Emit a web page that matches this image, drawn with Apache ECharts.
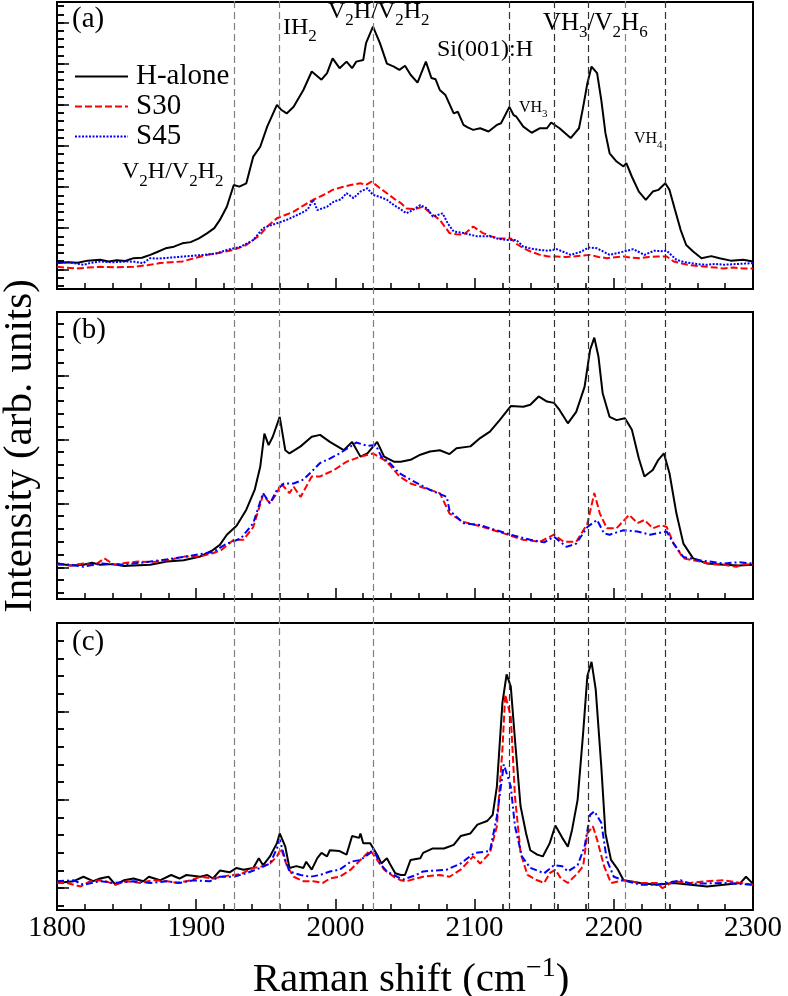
<!DOCTYPE html>
<html><head><meta charset="utf-8">
<script src="https://cdn.jsdelivr.net/npm/echarts@6/dist/echarts.min.js"></script>
<style>html,body{margin:0;padding:0;background:#fff}#c{width:788px;height:996px}</style>
</head><body><div id="c"></div>
<script>
// ---------------- data (Raman shift, intensity in arb. units) ----------------
const seriesNames = ['H-alone', 'S30', 'S45'];
const xTickLabels = [1800, 1900, 2000, 2100, 2200, 2300];
const refLines = [1927, 1960, 2027, 2125, 2157, 2182, 2208, 2237];
const refLineDark = [false, false, false, true, true, true, false, true];

const aH = [[1800,0.15],[1808,0.17],[1815,0.16],[1822,0.21],[1831,0.23],[1837,0.19],[1843,0.22],[1849,0.20],[1855,0.27],[1861,0.28],[1867,0.35],[1872,0.42],[1878,0.51],[1884,0.55],[1890,0.63],[1896,0.66],[1902,0.75],[1908,0.88],[1913,1.0],[1917,1.20],[1922,1.52],[1927,2.05],[1931,2.01],[1936,2.09],[1941,2.74],[1946,2.98],[1951,3.47],[1958,4.00],[1961,3.88],[1965,3.79],[1970,3.95],[1977,4.36],[1983,4.81],[1990,4.61],[1994,4.77],[1998,5.13],[2003,4.89],[2008,5.05],[2012,4.89],[2015,5.05],[2020,5.09],[2022,5.50],[2027,5.90],[2032,5.50],[2037,5.00],[2042,4.93],[2046,4.85],[2050,4.95],[2054,4.73],[2059,4.54],[2065,5.05],[2069,4.65],[2072,4.62],[2075,4.36],[2079,4.24],[2085,3.79],[2088,3.83],[2092,3.51],[2095,3.45],[2099,3.39],[2104,3.43],[2110,3.35],[2116,3.51],[2119,3.55],[2125,3.95],[2128,3.75],[2130,3.71],[2135,3.47],[2141,3.32],[2147,3.43],[2152,3.43],[2155,3.57],[2161,3.43],[2169,3.19],[2175,3.43],[2178,3.95],[2181,4.52],[2184,4.93],[2188,4.77],[2191,4.12],[2194,3.31],[2197,2.82],[2202,2.62],[2207,2.50],[2209,2.58],[2213,2.25],[2218,1.89],[2223,1.69],[2228,1.89],[2232,1.93],[2237,2.09],[2240,1.93],[2244,1.44],[2248,0.96],[2252,0.59],[2257,0.43],[2263,0.27],[2270,0.32],[2276,0.27],[2284,0.21],[2293,0.23],[2300,0.19]];
const aS30 = [[1800,0.06],[1807,0.04],[1814,0.02],[1822,0.04],[1831,0.06],[1843,0.05],[1855,0.06],[1865,0.10],[1874,0.15],[1882,0.17],[1890,0.19],[1899,0.27],[1908,0.35],[1918,0.41],[1927,0.47],[1936,0.59],[1946,0.84],[1951,1.04],[1958,1.24],[1964,1.32],[1970,1.40],[1977,1.55],[1984,1.69],[1991,1.80],[1998,1.93],[2005,2.00],[2011,2.05],[2018,2.09],[2022,2.05],[2026,2.13],[2031,2.00],[2037,1.85],[2042,1.72],[2047,1.61],[2051,1.48],[2057,1.46],[2063,1.52],[2069,1.35],[2075,1.20],[2082,0.88],[2087,0.85],[2092,0.84],[2099,1.04],[2106,0.88],[2112,0.80],[2118,0.75],[2126,0.75],[2130,0.62],[2135,0.51],[2141,0.42],[2147,0.35],[2153,0.31],[2159,0.31],[2165,0.30],[2171,0.31],[2177,0.33],[2183,0.35],[2189,0.30],[2195,0.27],[2201,0.29],[2207,0.31],[2213,0.28],[2219,0.27],[2225,0.30],[2231,0.31],[2238,0.31],[2243,0.19],[2249,0.14],[2255,0.10],[2261,0.08],[2267,0.06],[2273,0.04],[2279,0.02],[2286,0.04],[2293,0.02],[2300,0.02]];
const aS45 = [[1800,0.15],[1808,0.17],[1819,0.11],[1825,0.16],[1831,0.19],[1840,0.17],[1850,0.19],[1856,0.18],[1862,0.15],[1867,0.27],[1873,0.26],[1880,0.28],[1891,0.31],[1898,0.33],[1906,0.35],[1915,0.39],[1922,0.47],[1932,0.55],[1941,0.71],[1948,1.00],[1952,1.05],[1958,1.12],[1965,1.20],[1970,1.28],[1975,1.36],[1980,1.45],[1984,1.69],[1987,1.44],[1994,1.52],[1999,1.65],[2004,1.70],[2008,1.85],[2013,1.73],[2018,1.89],[2023,1.97],[2027,1.81],[2032,1.76],[2037,1.69],[2042,1.56],[2046,1.48],[2051,1.36],[2056,1.45],[2061,1.56],[2066,1.48],[2070,1.28],[2077,1.36],[2081,1.10],[2085,0.92],[2092,0.88],[2097,0.84],[2102,0.80],[2111,0.80],[2117,0.74],[2123,0.71],[2130,0.71],[2135,0.55],[2141,0.50],[2147,0.47],[2153,0.45],[2159,0.49],[2164,0.42],[2169,0.35],[2176,0.42],[2182,0.53],[2188,0.51],[2193,0.42],[2197,0.35],[2202,0.39],[2207,0.43],[2214,0.49],[2218,0.42],[2222,0.35],[2229,0.45],[2234,0.44],[2238,0.45],[2245,0.23],[2250,0.18],[2255,0.15],[2261,0.12],[2267,0.11],[2273,0.13],[2279,0.11],[2290,0.13],[2300,0.15]];

const bH = [[1800,0.06],[1810,0.03],[1819,0.04],[1825,0.07],[1831,0.04],[1840,0.05],[1848,0.02],[1855,0.03],[1867,0.04],[1879,0.09],[1891,0.11],[1903,0.17],[1912,0.27],[1917,0.35],[1922,0.51],[1929,0.65],[1936,0.90],[1942,1.21],[1946,1.57],[1949,2.09],[1952,1.91],[1955,2.04],[1960,2.35],[1964,1.83],[1967,1.78],[1975,1.89],[1983,2.04],[1989,2.07],[1996,1.96],[2006,1.83],[2012,1.96],[2018,1.73],[2023,1.78],[2030,1.96],[2035,1.73],[2042,1.65],[2047,1.65],[2054,1.68],[2061,1.76],[2068,1.81],[2075,1.83],[2082,1.77],[2087,1.86],[2097,1.89],[2104,2.02],[2111,2.12],[2118,2.30],[2126,2.52],[2135,2.51],[2140,2.54],[2146,2.67],[2152,2.59],[2157,2.57],[2161,2.46],[2167,2.25],[2173,2.43],[2179,2.82],[2183,3.40],[2186,3.59],[2189,3.29],[2192,2.72],[2197,2.35],[2202,2.30],[2208,2.33],[2213,2.15],[2218,1.70],[2222,1.42],[2228,1.52],[2232,1.68],[2236,1.78],[2240,1.47],[2245,0.84],[2250,0.37],[2257,0.14],[2267,0.06],[2279,0.04],[2290,0.03],[2300,0.04]];
const bS30 = [[1800,0.04],[1810,0.03],[1819,0.06],[1827,0.03],[1834,0.14],[1841,0.04],[1850,0.07],[1858,0.09],[1868,0.08],[1879,0.11],[1892,0.17],[1903,0.17],[1912,0.22],[1918,0.27],[1927,0.43],[1934,0.43],[1941,0.63],[1948,1.13],[1953,1.00],[1958,1.16],[1961,1.31],[1967,1.16],[1970,1.26],[1975,1.10],[1983,1.42],[1989,1.42],[1999,1.52],[2008,1.65],[2018,1.73],[2027,1.78],[2035,1.68],[2039,1.60],[2046,1.42],[2054,1.31],[2061,1.26],[2068,1.21],[2075,1.16],[2082,0.84],[2092,0.71],[2106,0.63],[2121,0.53],[2135,0.43],[2147,0.40],[2157,0.51],[2164,0.40],[2173,0.40],[2181,0.68],[2186,1.16],[2190,0.84],[2195,0.61],[2202,0.61],[2211,0.82],[2217,0.69],[2222,0.74],[2228,0.61],[2234,0.66],[2238,0.63],[2243,0.37],[2250,0.14],[2262,0.09],[2270,0.05],[2279,0.04],[2288,0.01],[2294,0.05],[2300,0.04]];
const bS45 = [[1800,0.06],[1810,0.04],[1819,0.01],[1831,0.06],[1848,0.04],[1867,0.09],[1881,0.13],[1896,0.18],[1912,0.24],[1922,0.37],[1932,0.45],[1941,0.69],[1948,1.16],[1953,1.00],[1958,1.21],[1963,1.31],[1970,1.31],[1977,1.37],[1984,1.52],[1989,1.63],[1996,1.70],[2003,1.78],[2011,1.89],[2015,1.95],[2023,1.90],[2029,1.91],[2033,1.73],[2039,1.63],[2046,1.47],[2054,1.37],[2061,1.29],[2068,1.21],[2080,1.10],[2082,0.89],[2092,0.69],[2104,0.66],[2111,0.61],[2126,0.51],[2140,0.43],[2150,0.39],[2157,0.48],[2166,0.32],[2173,0.37],[2181,0.63],[2188,0.74],[2193,0.53],[2197,0.51],[2207,0.58],[2217,0.56],[2226,0.51],[2231,0.53],[2238,0.56],[2243,0.37],[2250,0.16],[2262,0.11],[2279,0.06],[2290,0.08],[2300,0.06]];

const cH = [[1800,0.06],[1812,0.08],[1819,0.13],[1826,0.08],[1831,0.11],[1837,0.13],[1842,0.04],[1848,0.09],[1855,0.11],[1862,0.08],[1866,0.13],[1874,0.09],[1882,0.15],[1888,0.11],[1893,0.15],[1903,0.13],[1908,0.15],[1912,0.11],[1917,0.20],[1924,0.18],[1929,0.23],[1934,0.21],[1941,0.23],[1945,0.34],[1948,0.26],[1953,0.36],[1958,0.51],[1960,0.62],[1964,0.47],[1967,0.23],[1972,0.25],[1977,0.23],[1979,0.30],[1983,0.21],[1987,0.34],[1990,0.40],[1994,0.36],[1996,0.43],[2003,0.42],[2008,0.38],[2012,0.59],[2017,0.57],[2018,0.62],[2020,0.51],[2025,0.51],[2030,0.38],[2033,0.28],[2037,0.34],[2039,0.28],[2043,0.17],[2047,0.15],[2050,0.15],[2054,0.32],[2061,0.34],[2063,0.40],[2070,0.45],[2078,0.45],[2085,0.49],[2090,0.59],[2097,0.62],[2102,0.72],[2109,0.76],[2113,0.83],[2116,1.15],[2120,2.10],[2123,2.42],[2126,2.28],[2129,1.68],[2133,0.93],[2137,0.62],[2140,0.43],[2145,0.38],[2149,0.36],[2154,0.51],[2158,0.71],[2163,0.57],[2167,0.47],[2170,0.66],[2174,1.00],[2178,1.76],[2181,2.40],[2184,2.56],[2187,2.25],[2191,1.38],[2194,0.62],[2198,0.32],[2203,0.21],[2207,0.09],[2219,0.06],[2231,0.04],[2243,0.06],[2255,0.04],[2267,0.02],[2279,0.04],[2291,0.06],[2295,0.13],[2300,0.05]];
const cS30 = [[1800,0.06],[1807,0.06],[1817,0.02],[1824,0.08],[1833,0.09],[1842,0.04],[1850,0.08],[1860,0.06],[1869,0.09],[1879,0.08],[1886,0.06],[1896,0.09],[1903,0.13],[1912,0.11],[1922,0.14],[1932,0.16],[1941,0.23],[1948,0.25],[1953,0.28],[1958,0.36],[1961,0.45],[1965,0.26],[1970,0.13],[1977,0.08],[1984,0.08],[1991,0.06],[1996,0.11],[2003,0.13],[2011,0.21],[2018,0.32],[2025,0.43],[2030,0.32],[2035,0.21],[2042,0.13],[2047,0.09],[2051,0.08],[2063,0.13],[2075,0.15],[2082,0.13],[2090,0.21],[2099,0.36],[2104,0.28],[2111,0.40],[2116,0.70],[2120,1.57],[2122,2.19],[2126,1.94],[2129,1.04],[2133,0.40],[2138,0.15],[2145,0.09],[2150,0.06],[2154,0.17],[2158,0.21],[2162,0.11],[2167,0.06],[2174,0.17],[2178,0.25],[2181,0.62],[2185,0.70],[2188,0.55],[2193,0.25],[2198,0.06],[2207,0.09],[2219,0.06],[2231,0.06],[2235,0.00],[2243,0.08],[2255,0.06],[2267,0.08],[2279,0.09],[2291,0.06],[2300,0.04]];
const cS45 = [[1800,0.08],[1812,0.09],[1819,0.04],[1831,0.08],[1841,0.06],[1855,0.08],[1867,0.06],[1879,0.08],[1888,0.06],[1898,0.09],[1910,0.08],[1917,0.13],[1927,0.13],[1936,0.17],[1946,0.23],[1953,0.28],[1958,0.45],[1960,0.55],[1964,0.32],[1967,0.19],[1975,0.15],[1982,0.13],[1989,0.15],[1996,0.19],[2003,0.21],[2011,0.30],[2018,0.32],[2025,0.40],[2027,0.45],[2032,0.28],[2037,0.19],[2047,0.11],[2049,0.10],[2058,0.15],[2063,0.19],[2080,0.21],[2090,0.28],[2100,0.40],[2111,0.42],[2116,0.81],[2121,1.40],[2126,1.15],[2129,0.70],[2134,0.36],[2140,0.23],[2150,0.17],[2157,0.26],[2163,0.25],[2167,0.19],[2174,0.26],[2179,0.47],[2183,0.83],[2186,0.87],[2191,0.74],[2195,0.32],[2200,0.13],[2207,0.09],[2219,0.04],[2231,0.04],[2248,0.09],[2255,0.05],[2279,0.06],[2300,0.04]];

// y tick positions (no labels shown)
const yMajorA = [0, 1, 2, 3, 4, 5, 6];
const yMinorA = [-0.4, -0.2, 0.2, 0.4, 0.6, 0.8, 1.2, 1.4, 1.6, 1.8, 2.2, 2.4, 2.6, 2.8, 3.2, 3.4, 3.6, 3.8, 4.2, 4.4, 4.6, 4.8, 5.2, 5.4, 5.6, 5.8, 6.2, 6.4];
const yMajorB = [0, 1, 2, 3];
const yMinorB = [-0.4, -0.2, 0.2, 0.4, 0.6, 0.8, 1.2, 1.4, 1.6, 1.8, 2.2, 2.4, 2.6, 2.8, 3.2, 3.4, 3.6, 3.8];
const yMajorC = [0, 1, 2];
const yMinorC = [-0.2, 0.2, 0.4, 0.6, 0.8, 1.2, 1.4, 1.6, 1.8, 2.2, 2.4, 2.6, 2.8];

// ---------------- layout / styling ----------------
const FONT = '"Liberation Serif","Times New Roman",serif';
const panels = [
  { top: 2, min: -0.48, max: 6.50, majors: yMajorA, minors: yMinorA, data: [aH, aS30, aS45], blue: [2, 1.5] },
  { top: 312, min: -0.495, max: 3.99, majors: yMajorB, minors: yMinorB, data: [bH, bS30, bS45], blue: [7, 3, 2, 3] },
  { top: 623, min: -0.246, max: 3.0, majors: yMajorC, minors: yMinorC, data: [cH, cS30, cS45], blue: [7, 3, 2, 3] }
];
const L = 57, W = 696, H = 287;
const X0 = xTickLabels[0], X1 = xTickLabels[xTickLabels.length - 1];
const majorLenData = 12 / W * (X1 - X0);   // tick lengths expressed along the x scale
const minorLenData = 7 / W * (X1 - X0);

const grid = [], xAxis = [], yAxis = [], series = [];
panels.forEach((p, i) => {
  grid.push({ left: L, top: p.top, width: W, height: H, show: true, borderColor: '#000', borderWidth: 2, backgroundColor: 'rgba(0,0,0,0)', containLabel: false, outerBoundsMode: 'none' });
  xAxis.push({
    type: 'value', gridIndex: i, min: X0, max: X1, interval: 100,
    axisLine: { show: true, onZero: false, lineStyle: { color: '#000', width: 2 } },
    axisTick: { show: true, inside: true, length: 11, lineStyle: { color: '#000', width: 1.5 } },
    minorTick: { show: true, splitNumber: 5, length: 6, lineStyle: { color: '#000', width: 1.5 } },
    splitLine: { show: false }, minorSplitLine: { show: false },
    axisLabel: { show: i === 2, fontFamily: FONT, fontSize: 29, color: '#000', margin: 4, showMinLabel: true, showMaxLabel: true, formatter: v => String(v) }
  });
  const allTicks = p.majors.concat(p.minors).sort((a, b) => a - b);
  yAxis.push({
    type: 'value', gridIndex: i, min: p.min, max: p.max, position: 'left',
    axisLine: { show: true, onZero: false, lineStyle: { color: '#000', width: 2 } },
    axisTick: { show: true, inside: true, length: 7, lineStyle: { color: '#000', width: 1.5 }, customValues: allTicks },
    axisLabel: { show: false, customValues: allTicks },
    splitLine: { show: false }
  });
  const styles = [
    { color: '#000000', width: 2, type: 'solid' },
    { color: '#ff0000', width: 2, type: [7, 3] },
    { color: '#0000ff', width: 2, type: p.blue }
  ];
  p.data.forEach((d, k) => {
    const s = {
      type: 'line', name: seriesNames[k], data: d, xAxisIndex: i, yAxisIndex: i,
      symbol: 'none', showSymbol: false, color: styles[k].color,
      lineStyle: styles[k], itemStyle: { color: styles[k].color }, z: 3, animation: false
    };
    if (k === 0) {
      // inward y ticks (major and minor) on the left frame, placed through the panel's scales
      s.markLine = {
        silent: true, symbol: ['none', 'none'], label: { show: false }, animation: false,
        lineStyle: { color: '#000', width: 1.5, type: 'solid', opacity: 1 },
        emphasis: { disabled: true },
        data: p.majors.map(m => [{ coord: [X0, m] }, { coord: [X0 + majorLenData, m] }])
          .concat(p.minors.map(m => [{ coord: [X0, m] }, { coord: [X0 + minorLenData, m] }]))
      };
    }
    series.push(s);
  });
});
// overlay grid (index 3) for the reference lines through all panels
grid.push({ left: L, top: 0, width: W, height: 910, show: false, containLabel: false, outerBoundsMode: 'none' });
xAxis.push({ type: 'value', gridIndex: 3, min: X0, max: X1, show: false });
yAxis.push({ type: 'value', gridIndex: 3, min: 0, max: 1, show: false });
series.push({
  type: 'line', name: 'ref', data: [], xAxisIndex: 3, yAxisIndex: 3, z: 1, animation: false,
  markLine: {
    silent: true, symbol: ['none', 'none'], label: { show: false }, animation: false,
    data: refLines.map((x, i) => ({ xAxis: x, lineStyle: { color: refLineDark[i] ? '#333333' : '#808080', type: [7, 4], width: 1.2 } }))
  }
});

// rich text with subscripts: "_d" = subscript character d
function richLabel(spec, fs, sfs) {
  let text = '', run = '';
  for (let i = 0; i < spec.length; i++) {
    if (spec[i] === '_') {
      if (run) { text += '{m|' + run + '}'; run = ''; }
      text += '{s|' + spec[i + 1] + '}'; i++;
    } else run += spec[i];
  }
  if (run) text += '{m|' + run + '}';
  const sl = fs / 2 + 0.3375 * fs + 1 + sfs / 2;
  return {
    text,
    rich: {
      m: { fontFamily: FONT, fontSize: fs, lineHeight: fs, verticalAlign: 'top', fill: '#000' },
      s: { fontFamily: FONT, fontSize: sfs, lineHeight: sl, verticalAlign: 'bottom', fill: '#000' }
    }
  };
}
function ann(spec, x, capCenter, fs, sfs) {
  const r = richLabel(spec, fs, sfs);
  return {
    type: 'text', x: x, y: capCenter - fs / 2, z: 10,
    style: { text: r.text, rich: r.rich, fontFamily: FONT, fontSize: fs, fill: '#000', align: 'left', verticalAlign: 'top', textAlign: 'left', textVerticalAlign: 'top' }
  };
}
function plain(txt, x, y, fs, extra) {
  return Object.assign({
    type: 'text', x: x, y: y, z: 10,
    style: { text: txt, fontFamily: FONT, fontSize: fs, fill: '#000', align: 'left', verticalAlign: 'middle', textAlign: 'left', textVerticalAlign: 'middle' }
  }, extra || {});
}

const graphic = [
  plain('(a)', 72, 19, 29),
  plain('(b)', 72, 330, 29),
  plain('(c)', 72, 642, 29),
  ann('V_2H/V_2H_2', 122, 172, 24, 17),
  ann('IH_2', 283, 27.5, 24, 17),
  ann('V_2H/V_2H_2', 328, 11.5, 24, 17),
  ann('Si(001):H', 437, 50, 24, 17),
  ann('VH_3/V_2H_6', 543, 23, 25, 17),
  ann('VH_3', 519, 108, 16, 11),
  ann('VH_4', 634, 138.5, 16, 11),
  {
    type: 'text', x: 411, y: 978, z: 10,
    style: {
      text: '{m|Raman shift (cm}{p|\u22121}{m|)}', fontFamily: FONT, fontSize: 41, fill: '#000',
      align: 'center', verticalAlign: 'middle', textAlign: 'center', textVerticalAlign: 'middle',
      rich: {
        m: { fontFamily: FONT, fontSize: 41, lineHeight: 46, verticalAlign: 'bottom', fill: '#000' },
        p: { fontFamily: FONT, fontSize: 28, lineHeight: 28, verticalAlign: 'top', fill: '#000' }
      }
    }
  },
  {
    type: 'text', x: 20, y: 446, rotation: Math.PI / 2, z: 10,
    style: { text: 'Intensity (arb. units)', fontFamily: FONT, fontSize: 41, fill: '#000', align: 'center', verticalAlign: 'middle', textAlign: 'center', textVerticalAlign: 'middle' }
  }
];

const chart = echarts.init(document.getElementById('c'), null, { renderer: 'canvas' });
chart.setOption({
  backgroundColor: '#ffffff',
  animation: false,
  grid, xAxis, yAxis, series, graphic,
  legend: {
    data: seriesNames, orient: 'vertical', left: 74, top: 62, itemWidth: 53, itemHeight: 2, itemGap: 1,
    selectedMode: false, padding: 0,
    itemStyle: { opacity: 0 },
    textStyle: { fontFamily: FONT, fontSize: 29, color: '#000', lineHeight: 29, padding: [0, 0, 0, 3] }
  }
});
</script></body></html>
